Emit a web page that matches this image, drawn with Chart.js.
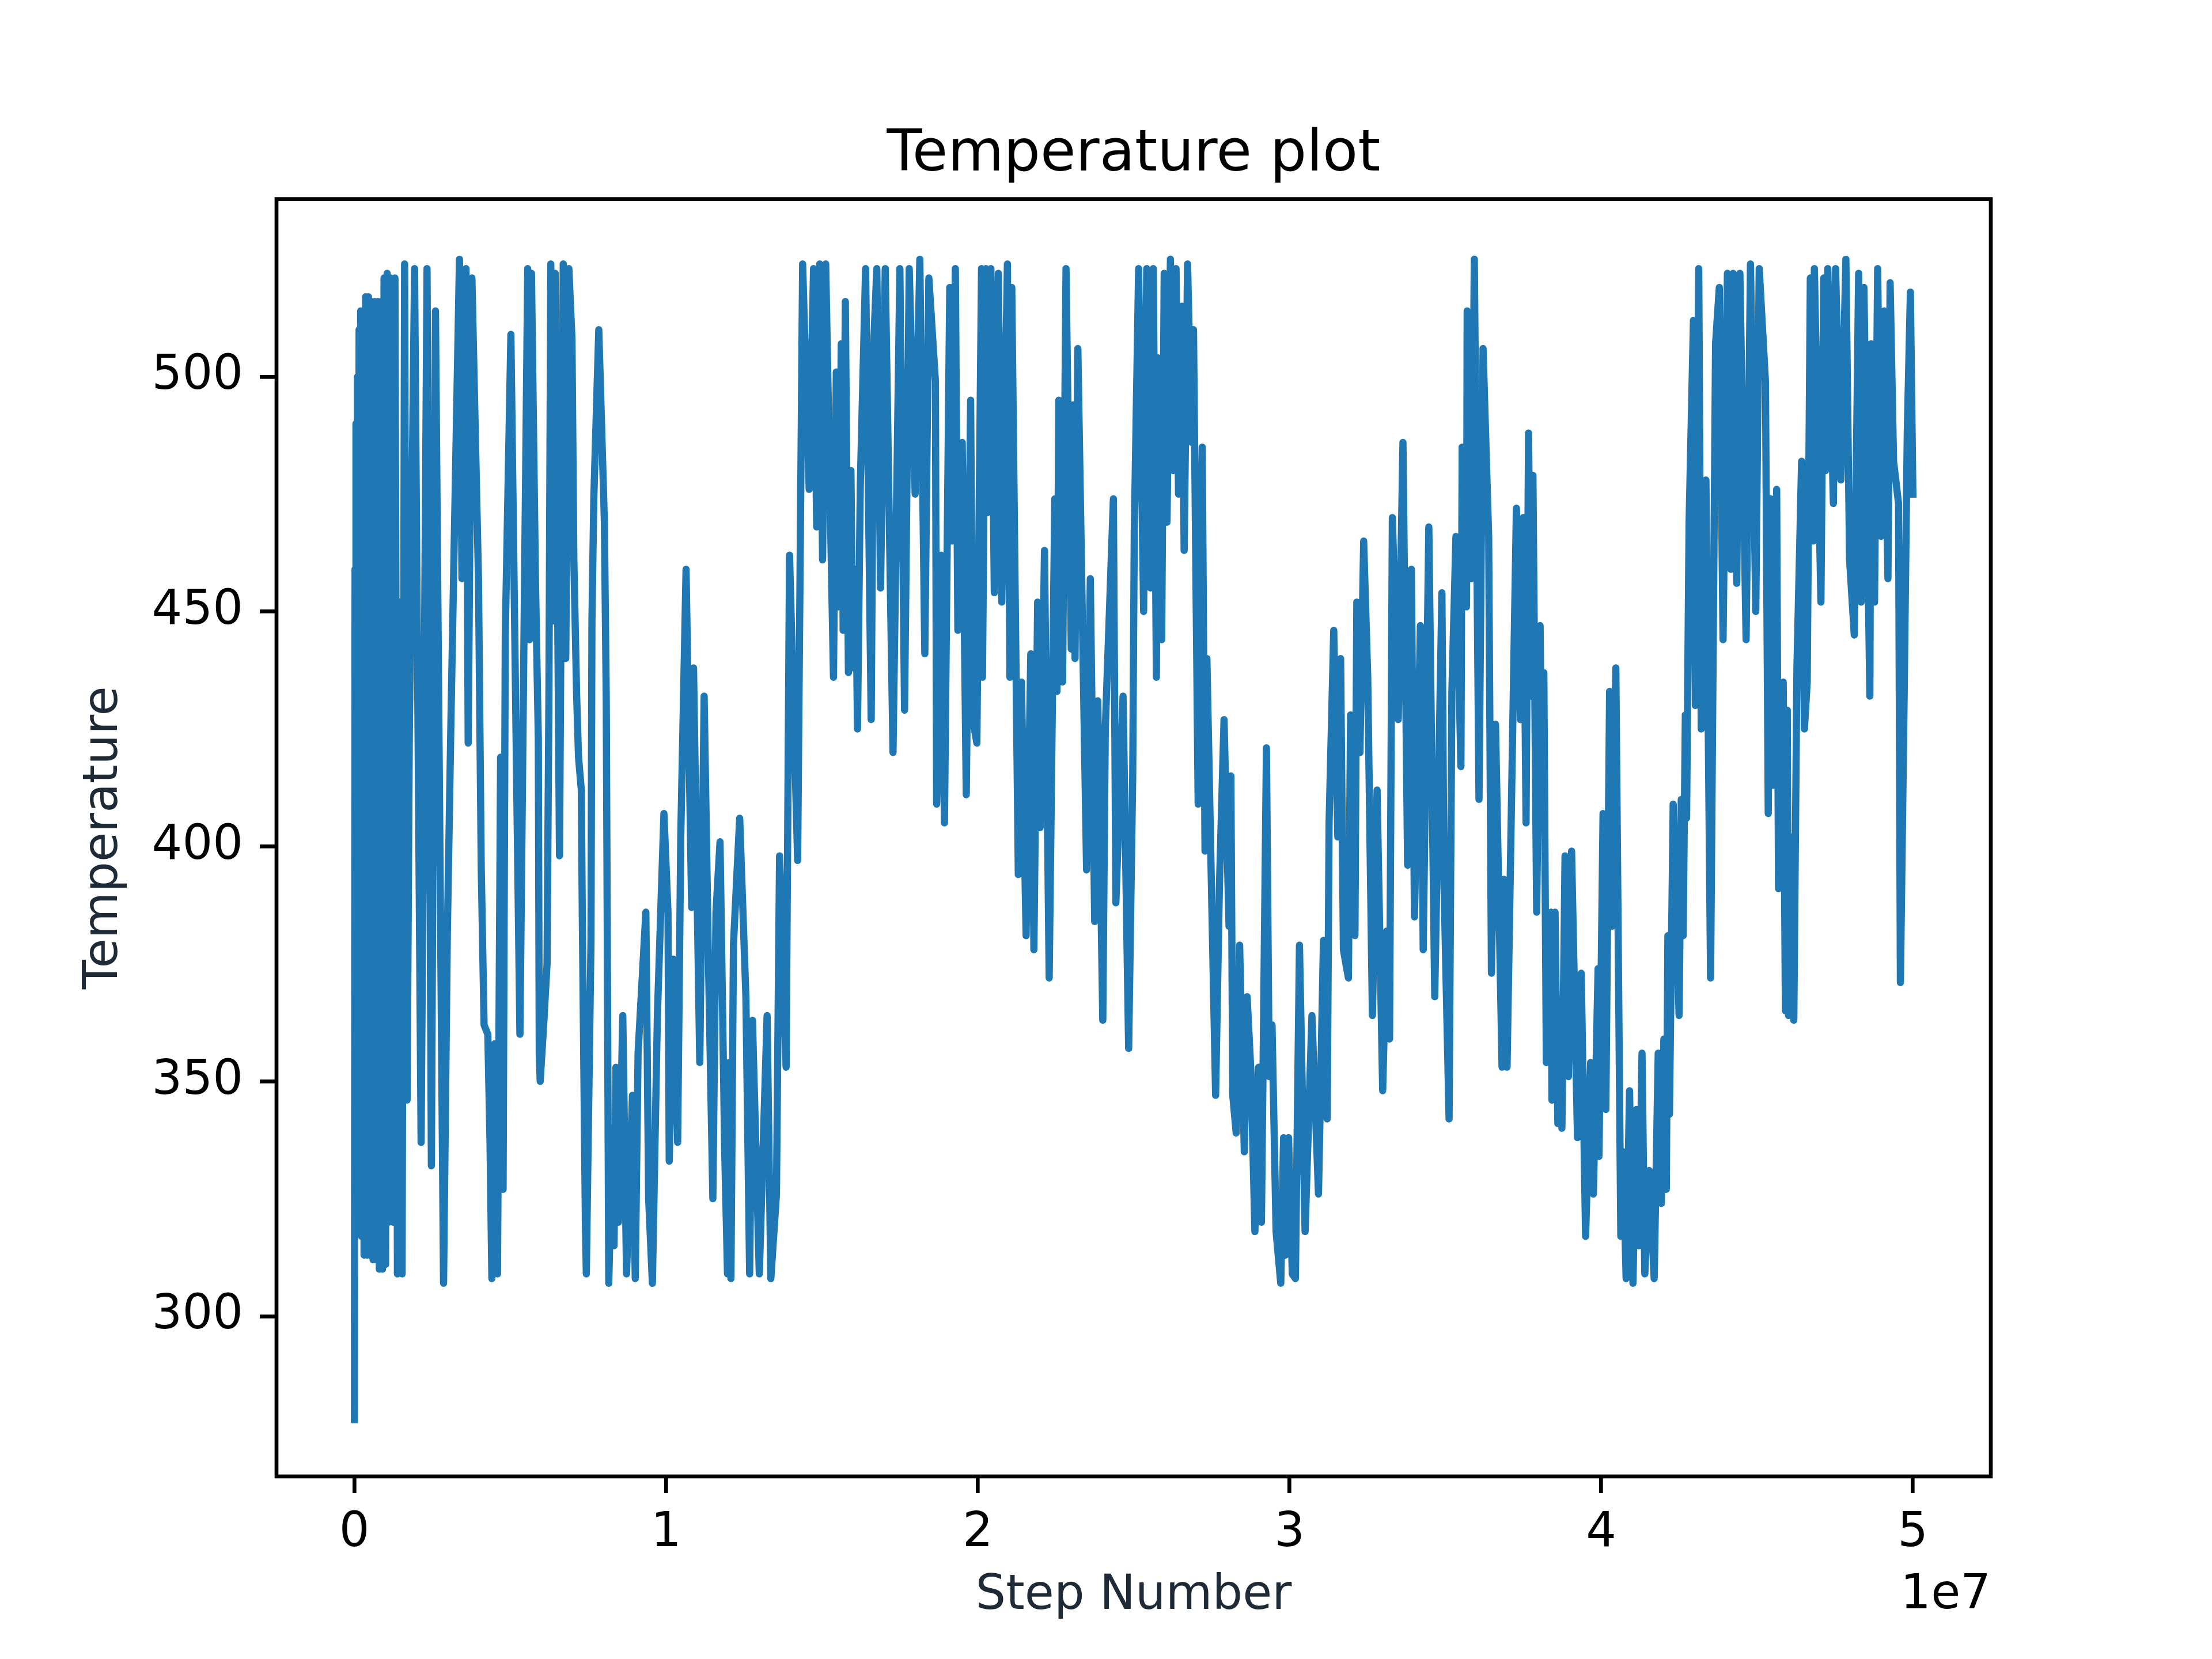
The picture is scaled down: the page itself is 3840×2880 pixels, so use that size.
<!DOCTYPE html>
<html>
<head>
<meta charset="utf-8">
<title>Temperature plot</title>
<script src="https://cdn.jsdelivr.net/npm/chart.js@4.4.1/dist/chart.umd.min.js"></script>
<style>
  html, body { margin: 0; padding: 0; background: #fff; }
  canvas { display: block; }
</style>
</head>
<body>
<canvas id="tempChart" width="3840" height="2880"></canvas>
<script>
// Step number (millions of steps)
const stepsM = [
  0.00, 0.02, 0.04, 0.05, 0.08, 0.10, 0.12, 0.15, 0.17, 0.20, 0.23, 0.27, 0.31, 0.36, 0.41, 0.45, 0.50, 0.55, 0.60, 0.65,
  0.70, 0.75, 0.80, 0.85, 0.90, 0.95, 1.00, 1.05, 1.10, 1.16, 1.24, 1.30, 1.34, 1.38, 1.47, 1.53, 1.61, 1.69, 1.76, 1.93,
  2.14, 2.33, 2.47, 2.60, 2.86, 2.98, 3.10, 3.37, 3.45, 3.58, 3.65, 3.77, 3.98, 4.07, 4.16, 4.28, 4.35, 4.41, 4.50, 4.59, 4.69, 4.77,
  4.84, 5.02,
  5.31, 5.56, 5.62, 5.68, 5.81, 5.90, 5.93, 5.96, 6.08, 6.18, 6.24, 6.30, 6.38, 6.44, 6.58, 6.70, 6.78, 6.88, 6.98, 7.04,
  7.13, 7.19, 7.28, 7.31, 7.41, 7.44, 7.59, 7.62, 7.68, 7.84,
  8.02, 8.08, 8.16, 8.27, 8.33, 8.39, 8.47, 8.61, 8.73, 8.92, 9.01, 9.10, 9.35, 9.44, 9.56, 9.72, 9.93, 10.06, 10.10,
  10.23, 10.37, 10.47, 10.64, 10.82, 10.88, 11.08, 11.22, 11.36, 11.50, 11.60, 11.73, 11.88, 11.97, 12.02, 12.08, 12.16, 12.36, 12.56, 12.68,
  12.77, 12.99, 13.24, 13.36, 13.54, 13.64, 13.85, 13.96, 14.22, 14.38, 14.59, 14.73, 14.83, 14.93, 15.02, 15.12,
  15.37, 15.46, 15.53, 15.62, 15.68, 15.75, 15.85, 15.93, 15.99, 16.08, 16.14, 16.23, 16.40, 16.58, 16.66, 16.76, 16.88, 17.03, 17.28, 17.50,
  17.65, 17.80, 17.99, 18.14, 18.30, 18.43, 18.64, 18.68, 18.82, 18.93, 19.10, 19.17, 19.28, 19.36, 19.50, 19.63, 19.77, 19.84, 19.97,
  20.12, 20.15, 20.26, 20.30, 20.42, 20.53, 20.66, 20.77, 20.95, 21.03, 21.09, 21.30, 21.40, 21.55, 21.70, 21.80, 21.92, 22.00, 22.14, 22.29,
  22.47, 22.54, 22.60, 22.72, 22.83, 23.00, 23.06, 23.12, 23.21, 23.49, 23.61, 23.75, 23.85, 24.01, 24.09, 24.35, 24.43, 24.66, 24.84, 24.97,
  25.02,
  25.16, 25.32, 25.42, 25.54, 25.63, 25.73, 25.78, 25.90, 25.98, 26.07, 26.18, 26.27, 26.36, 26.44, 26.55, 26.62, 26.73, 26.86, 26.92, 27.07,
  27.20, 27.29, 27.35, 27.63, 27.75, 27.90, 28.06, 28.12, 28.18, 28.29, 28.40, 28.55, 28.64, 28.77, 28.89, 29.01, 29.10, 29.26, 29.35, 29.44,
  29.57, 29.72, 29.81, 29.87, 29.97, 30.09,
  30.19, 30.32, 30.50, 30.72, 30.93, 31.09, 31.21, 31.27, 31.42, 31.55, 31.64, 31.73, 31.89, 31.96, 32.10, 32.16, 32.26, 32.38, 32.51, 32.66,
  32.81, 32.99, 33.12, 33.21, 33.30, 33.49, 33.64, 33.79, 33.91, 34.01, 34.20, 34.29, 34.47, 34.66, 34.89, 34.96, 35.12, 35.21,
  35.34, 35.50, 35.54, 35.68, 35.70, 35.84, 35.93, 36.08, 36.21, 36.39, 36.48, 36.61, 36.82, 36.88, 36.98, 37.28, 37.41, 37.50, 37.59, 37.67,
  37.75, 37.81, 37.93, 38.04, 38.09, 38.16, 38.24, 38.39, 38.42, 38.52, 38.61, 38.68, 38.74, 38.84, 38.95, 39.05, 39.24, 39.36, 39.50, 39.66,
  39.75, 39.90, 39.93, 40.06, 40.15, 40.27,
  40.35, 40.47, 40.63, 40.70, 40.80, 40.91, 41.02, 41.13, 41.21, 41.31, 41.40, 41.54, 41.70, 41.83, 41.93, 42.01, 42.09, 42.14, 42.19, 42.31,
  42.50, 42.57, 42.63, 42.70, 42.74, 42.82, 42.96, 43.02, 43.13, 43.21, 43.36, 43.51, 43.67, 43.79, 43.91, 44.05, 44.16, 44.23, 44.35, 44.45,
  44.65, 44.79, 44.96, 45.07, 45.27, 45.36,
  45.44, 45.51, 45.63, 45.69, 45.84, 45.91, 45.97, 46.01, 46.09, 46.18, 46.28, 46.43, 46.52, 46.61, 46.71, 46.80, 46.84, 47.05, 47.14, 47.20,
  47.27, 47.45, 47.52, 47.69, 47.85, 47.97, 48.12, 48.26, 48.34, 48.43, 48.62, 48.66, 48.77, 48.87, 48.98, 49.08, 49.20, 49.27, 49.38, 49.54,
  49.60, 49.72, 49.82, 49.92, 50.00
];

// Temperature at each step above
const temperature = [
  278, 459, 325, 490, 325, 500, 325, 510, 325, 514, 317, 514, 313, 517, 313, 517, 313, 516, 312, 516,
  312, 516, 310, 516, 310, 521, 311, 522, 320, 521, 320, 521, 436, 309, 452, 309, 524, 346, 423, 523,
  337, 523, 332, 514, 307, 381, 428, 525, 457, 523, 422, 521, 457, 395, 362, 360, 337, 308, 358, 309, 419, 327,
  445, 509,
  360, 523, 444, 522, 456, 423, 356, 350, 363, 375, 432, 524, 448, 522, 398, 524, 440, 523, 508, 461,
  432, 419, 412, 386, 320, 309, 380, 448, 474, 510,
  469, 431, 307, 339, 315, 353, 320, 364, 309, 347, 308, 356, 386, 325, 307, 364, 407, 386, 333,
  376, 337, 402, 459, 387, 438, 354, 432, 375, 325, 386, 401, 335, 309, 354, 308, 379, 406, 368, 309,
  363, 309, 364, 308, 326, 398, 353, 462, 397, 524, 476, 523, 468, 524, 461, 524,
  436, 501, 451, 507, 446, 516, 437, 480, 438, 459, 425, 477, 523, 427, 507, 523, 455, 523, 420, 523,
  429, 523, 475, 525, 441, 521, 499, 409, 462, 405, 519, 465, 523, 446, 486, 411, 495, 427, 422,
  523, 436, 523, 471, 523, 454, 522, 452, 524, 436, 519, 394, 435, 381, 441, 378, 452, 404, 463, 372,
  474, 433, 495, 435, 523, 442, 494, 440, 506, 395, 457, 384, 431, 363, 425, 474, 388, 432, 357, 415,
  467,
  523, 450, 523, 455, 523, 436, 504, 444, 522, 469, 525, 480, 523, 475, 515, 463, 524, 486, 510, 409,
  485, 399, 440, 347, 391, 427, 383, 415, 347, 339, 379, 335, 368, 351, 318, 353, 320, 421, 351, 362,
  318, 307, 338, 313, 338, 309,
  308, 379, 318, 364, 326, 380, 342, 405, 446, 402, 440, 378, 372, 428, 381, 452, 420, 465, 436, 364,
  412, 348, 382, 359, 470, 427, 486, 396, 459, 385, 447, 378, 468, 368, 454, 391, 342, 433,
  466, 417, 485, 451, 514, 457, 525, 410, 506, 466, 373, 426, 353, 393, 353, 472, 427, 470, 405, 488,
  432, 479, 386, 447, 415, 437, 354, 386, 346, 386, 341, 367, 340, 398, 351, 399, 338, 373, 317, 354,
  326, 374, 334, 407, 344, 433,
  383, 438, 317, 335, 308, 348, 307, 344, 315, 356, 309, 331, 308, 356, 324, 359, 327, 381, 343, 409,
  364, 410, 381, 428, 406, 469, 512, 430, 523, 425, 478, 372, 507, 519, 444, 522, 459, 522, 456, 522,
  444, 524, 450, 523, 499, 407,
  474, 413, 476, 391, 435, 365, 429, 364, 402, 363, 438, 482, 425, 435, 521, 465, 523, 452, 521, 480,
  523, 473, 523, 478, 525, 461, 445, 522, 452, 519, 432, 507, 452, 523, 466, 514, 457, 520, 482, 473,
  371, 432, 488, 518, 475
];

const xTicks = [0, 10, 20, 30, 40, 50];      // millions of steps -> shown as 0..5 (x 1e7)
const yTicks = [300, 350, 400, 450, 500];

const FONT = '"DejaVu Sans", "Liberation Sans", sans-serif';
const LABEL_COLOR = '#1f2a37';
const SPINE_W = 6.67;

// Axes box, matched to the reference figure
const AREA = { left: 480, right: 3456, top: 345.6, bottom: 2563 };

/* ---------------------------------------------------------------------------
    FRAME, TITLE AND OFFSET TEXT
--------------------------------------------------------------------------- */
const frameAndTitle = {
  id: 'frameAndTitle',
  afterDatasetsDraw(chart) {
    const { ctx, chartArea: a } = chart;
    ctx.save();
    ctx.strokeStyle = '#000';
    ctx.lineWidth = SPINE_W;
    ctx.strokeRect(a.left, a.top, a.right - a.left, a.bottom - a.top);
    ctx.restore();
  },
  afterDraw(chart) {
    const { ctx, chartArea: a } = chart;
    ctx.save();
    ctx.fillStyle = '#000';
    ctx.textBaseline = 'alphabetic';
    ctx.font = `100px ${FONT}`;
    ctx.textAlign = 'center';
    ctx.fillText('Temperature plot', (a.left + a.right) / 2, 296);
    ctx.font = `83px ${FONT}`;
    ctx.textAlign = 'right';
    ctx.fillText('1e7', a.right, 2792);
    ctx.restore();
  }
};

const tickGrid = {
  display: true,
  drawOnChartArea: false,
  drawTicks: true,
  tickLength: 29,
  tickWidth: SPINE_W,
  lineWidth: SPINE_W,
  tickColor: '#000',
  color: '#000'
};

const ctx = document.getElementById('tempChart').getContext('2d');

new Chart(ctx, {
  type: 'line',
  data: {
    datasets: [{
      label: 'Temperature',
      data: stepsM.map((s, i) => ({ x: s, y: temperature[i] })),
      borderColor: '#1f77b4',
      borderWidth: 12.5,
      borderJoinStyle: 'round',
      borderCapStyle: 'square',
      pointRadius: 0,
      tension: 0,
      fill: false
    }]
  },
  options: {
    responsive: false,
    animation: false,
    devicePixelRatio: 1,
    layout: {
      padding: { top: AREA.top, right: 3840 - AREA.right, left: 0, bottom: 0 }
    },
    plugins: {
      legend: { display: false },
      tooltip: { enabled: false },
      title: { display: false }
    },
    scales: {
      x: {
        type: 'linear',
        min: -2.5,
        max: 52.5,
        grid: tickGrid,
        border: { display: false },
        afterBuildTicks: (scale) => { scale.ticks = xTicks.map(v => ({ value: v })); },
        afterFit: (scale) => { scale.height = 2880 - AREA.bottom; },
        ticks: {
          color: '#000',
          padding: 29,
          maxRotation: 0,
          font: { family: FONT, size: 83, lineHeight: 1 },
          callback: (value) => String(value / 10)
        },
        title: {
          display: true,
          text: 'Step Number',
          color: LABEL_COLOR,
          font: { family: FONT, size: 83, lineHeight: 1 },
          padding: { top: 0, bottom: 67 }
        }
      },
      y: {
        type: 'linear',
        min: 265.9,
        max: 537.8,
        grid: tickGrid,
        border: { display: false },
        afterBuildTicks: (scale) => { scale.ticks = yTicks.map(v => ({ value: v })); },
        afterFit: (scale) => { scale.width = AREA.left; },
        ticks: {
          color: '#000',
          padding: 29,
          font: { family: FONT, size: 83, lineHeight: 1 }
        },
        title: {
          display: true,
          text: 'Temperature',
          color: LABEL_COLOR,
          font: { family: FONT, size: 83, lineHeight: 1 },
          padding: { top: 140, bottom: 0 }
        }
      }
    }
  },
  plugins: [frameAndTitle]
});
</script>
</body>
</html>
